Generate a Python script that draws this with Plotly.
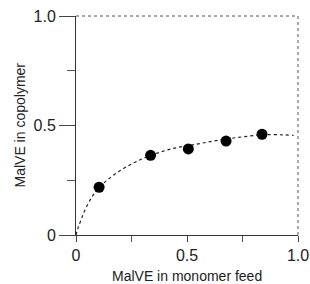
import plotly.graph_objects as go

feed = [0.104, 0.336, 0.506, 0.676, 0.838]
copolymer = [0.218, 0.364, 0.393, 0.429, 0.46]

curve_x = [0.0, 0.01, 0.02, 0.04, 0.078, 0.12, 0.183, 0.273, 0.41, 0.56, 0.71, 0.86, 0.98]
curve_y = [0.0, 0.035, 0.062, 0.113, 0.183, 0.232, 0.283, 0.336, 0.388, 0.418, 0.443, 0.458, 0.455]

major_ticks = [0, 0.5, 1.0]
major_labels = ["0", "0.5", "1.0"]
minor_ticks = [0.25, 0.75]

x_title = "MalVE in monomer feed"
y_title = "MalVE in copolymer"

FONT = "Liberation Sans, Arial, sans-serif"

fig = go.Figure()
fig.add_trace(go.Scatter(x=curve_x, y=curve_y, mode="lines",
                         line=dict(color="#222", width=1.2, dash="dot", shape="spline"),
                         showlegend=False, hoverinfo="skip"))
fig.add_trace(go.Scatter(x=feed, y=copolymer, mode="markers",
                         marker=dict(color="black", size=11),
                         showlegend=False))

def axis_style(ticklen, minorlen):
    return dict(
        range=[0, 1.0], showgrid=False, zeroline=False, automargin=False,
        showline=True, linecolor="#333", linewidth=1, mirror=False,
        ticks="outside", ticklen=ticklen, tickcolor="#444", tickwidth=1,
        tickvals=major_ticks, ticktext=major_labels, ticklabeloverflow="allow",
        minor=dict(tickvals=minor_ticks, ticks="outside", ticklen=minorlen, tickcolor="#555"),
        tickfont=dict(family=FONT, size=16, color="#222"),
    )

fig.update_xaxes(**axis_style(6, 6))
fig.update_yaxes(**axis_style(16, 8))

title_font = dict(family=FONT, size=14, color="#222")
fig.add_annotation(text=x_title, xref="paper", yref="paper", x=0.5, y=0,
                   xanchor="center", yanchor="middle", yshift=-41,
                   showarrow=False, font=title_font)
fig.add_annotation(text=y_title, xref="paper", yref="paper", x=0, y=0.5,
                   xanchor="center", yanchor="middle", xshift=-57, textangle=-90,
                   showarrow=False, font=title_font)

# dotted top and right borders
fig.add_shape(type="line", xref="paper", yref="paper", x0=0, x1=1, y0=1, y1=1,
              line=dict(color="#555", width=1, dash="dot"))
fig.add_shape(type="line", xref="paper", yref="paper", x0=1, x1=1, y0=0, y1=1,
              line=dict(color="#555", width=1, dash="dot"))

fig.update_layout(width=310, height=284, autosize=False,
                  margin=dict(l=76, r=12, t=16, b=49),
                  plot_bgcolor="white", paper_bgcolor="white")
fig.write_html("out.html",
               config={"displayModeBar": False, "responsive": False},
               post_script="document.body.style.margin='0';document.body.style.overflow='hidden';")
